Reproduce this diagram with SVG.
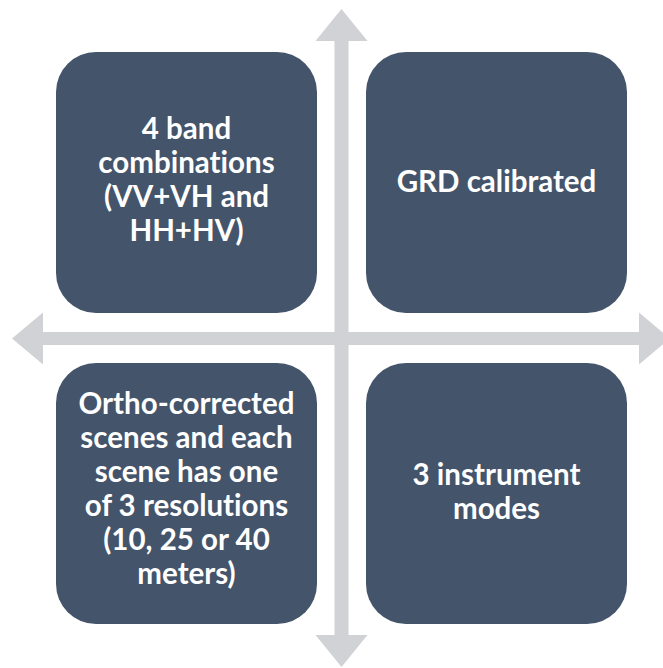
<svg xmlns="http://www.w3.org/2000/svg" width="663" height="668" viewBox="0 0 663 668">
  <style>
    .axis { fill: #d1d2d6; }
    .card { fill: #44546a; }
    .label { fill: #ffffff; font-family: "Lato", "Open Sans", "Liberation Sans", sans-serif; font-weight: 700; font-size: 29.5px; text-anchor: middle; font-variant-ligatures: none; }
  </style>
  <rect width="663" height="668" fill="#ffffff"/>

  <!-- double-headed axes crossing in the middle -->
  <g id="connectors">
    <path class="axis" d="M341.5 9 L367.5 41 L348.5 41 L348.5 635 L367.5 635 L341.5 667 L315.5 635 L334.5 635 L334.5 41 L315.5 41 Z"/>
    <path class="axis" d="M12 338.5 L43 312.5 L43 332 L639 332 L639 312.5 L670 338.5 L639 364.5 L639 345 L43 345 L43 364.5 Z"/>
  </g>

  <g id="band-combinations">
    <rect class="card" x="56" y="52" width="261" height="261" rx="40"/>
    <text class="label" x="186.5" y="139">4 band</text>
    <text class="label" x="186.5" y="173">combinations</text>
    <text class="label" x="186.5" y="207">(VV+VH and</text>
    <text class="label" x="186.5" y="241">HH+HV)</text>
  </g>

  <g id="grd-calibrated">
    <rect class="card" x="366" y="52" width="261" height="261" rx="40"/>
    <text class="label" x="496.5" y="192">GRD calibrated</text>
  </g>

  <g id="ortho-corrected">
    <rect class="card" x="56" y="363" width="261" height="261" rx="40"/>
    <text class="label" x="186.5" y="414">Ortho-corrected</text>
    <text class="label" x="186.5" y="448">scenes and each</text>
    <text class="label" x="186.5" y="482">scene has one</text>
    <text class="label" x="186.5" y="516">of 3 resolutions</text>
    <text class="label" x="186.5" y="550">(10, 25 or 40</text>
    <text class="label" x="186.5" y="584">meters)</text>
  </g>

  <g id="instrument-modes">
    <rect class="card" x="366" y="363" width="261" height="261" rx="40"/>
    <text class="label" x="496.5" y="485">3 instrument</text>
    <text class="label" x="496.5" y="519">modes</text>
  </g>
</svg>
